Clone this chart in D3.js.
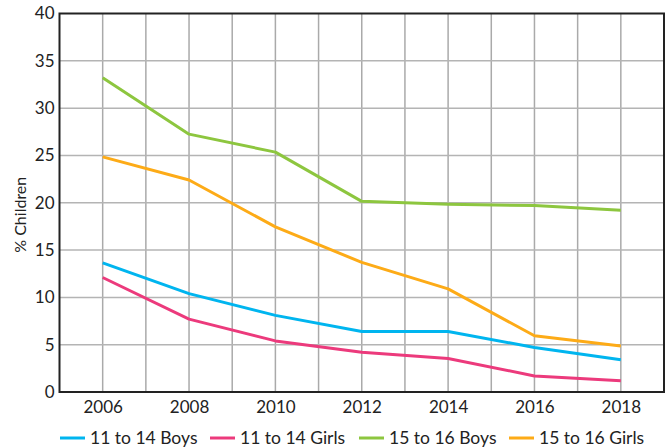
<!DOCTYPE html>
<html>
<head>
<meta charset="utf-8">
<script src="https://cdn.jsdelivr.net/npm/d3@7"></script>
<style>
  body { margin: 0; background: #fff; }
  svg { display: block; font-family: Lato, "Open Sans", sans-serif; }
</style>
</head>
<body>
<div id="viz"></div>
<script>
// % children by age group and sex, 2006-2018

const YEARS = [2006, 2008, 2010, 2012, 2014, 2016, 2018];
const SERIES = ["11 to 14 Boys", "11 to 14 Girls", "15 to 16 Boys", "15 to 16 Girls"];
const COLORS = ["#00b5ef", "#ec3a7c", "#8dc63f", "#fdab17"];

const boys11 = [13.65, 10.4, 8.1, 6.4, 6.4, 4.7, 3.4];
const girls11 = [12.1, 7.7, 5.4, 4.2, 3.55, 1.7, 1.2];
const boys15 = [33.2, 27.25, 25.35, 20.15, 19.85, 19.7, 19.2];
const girls15 = [24.85, 22.4, 17.45, 13.7, 10.9, 5.95, 4.85];

const VALUES = [boys11, girls11, boys15, girls15];
const Y_TICKS = [0, 5, 10, 15, 20, 25, 30, 35, 40];

const width = 670, height = 448;
const margin = { top: 13.5, right: 6, bottom: 56, left: 59.5 };

const svg = d3.select("#viz").append("svg")
  .attr("width", width)
  .attr("height", height);

const x = d3.scaleLinear()
  .domain([2005, 2019])
  .range([margin.left, width - margin.right]);

const y = d3.scaleLinear()
  .domain([0, 40])
  .range([height - margin.bottom, margin.top]);

// grid
const gridYears = d3.range(2006, 2019);
svg.append("g")
  .selectAll("line")
  .data(gridYears)
  .enter().append("line")
  .attr("x1", d => x(d)).attr("x2", d => x(d))
  .attr("y1", y(0)).attr("y2", y(40))
  .attr("stroke", "#aaa")
  .attr("stroke-width", 1.5);

svg.append("g")
  .selectAll("line")
  .data(Y_TICKS.slice(1, -1))
  .enter().append("line")
  .attr("x1", x(2005)).attr("x2", x(2019))
  .attr("y1", d => y(d)).attr("y2", d => y(d))
  .attr("stroke", "#b4b4b4")
  .attr("stroke-width", 1.5);

// lines
const line = d3.line()
  .x((d, i) => x(YEARS[i]))
  .y(d => y(d));

svg.append("g")
  .selectAll("path")
  .data(VALUES)
  .enter().append("path")
  .attr("fill", "none")
  .attr("stroke", (d, i) => COLORS[i])
  .attr("stroke-width", 3)
  .attr("stroke-linejoin", "round")
  .attr("d", line);

// frame
svg.append("rect")
  .attr("x", x(2005)).attr("y", y(40))
  .attr("width", x(2019) - x(2005))
  .attr("height", y(0) - y(40))
  .attr("fill", "none")
  .attr("stroke", "#222")
  .attr("stroke-width", 2);

// axes
const yAxis = d3.axisLeft(y).tickValues(Y_TICKS).tickSize(0).tickPadding(5);
const gy = svg.append("g")
  .attr("transform", `translate(${margin.left},0)`)
  .call(yAxis);
gy.select(".domain").remove();
gy.selectAll("text")
  .attr("font-size", 17)
  .attr("font-family", "Lato, sans-serif")
  .attr("fill", "#222");

const xAxis = d3.axisBottom(x).tickValues(YEARS).tickFormat(d3.format("d")).tickSize(0).tickPadding(9);
const gx = svg.append("g")
  .attr("transform", `translate(0,${y(0)})`)
  .call(xAxis);
gx.select(".domain").remove();
gx.selectAll("text")
  .attr("font-size", 17)
  .attr("font-family", "Lato, sans-serif")
  .attr("fill", "#222");

// y title
svg.append("text")
  .attr("transform", `translate(26,${(y(0) + y(40)) / 2 + 12}) rotate(-90)`)
  .attr("text-anchor", "middle")
  .attr("font-size", 16)
  .attr("fill", "#222")
  .text("% Children");

// legend
const legendX = [60, 210, 359, 509];
const legend = svg.append("g")
  .selectAll("g")
  .data(SERIES)
  .enter().append("g")
  .attr("transform", (d, i) => `translate(${legendX[i]},438)`);

legend.append("line")
  .attr("x1", 0).attr("x2", 25)
  .attr("stroke", (d, i) => COLORS[i])
  .attr("stroke-width", 3);

legend.append("text")
  .attr("x", 30)
  .attr("dy", "0.35em")
  .attr("font-size", 17.5)
  .attr("fill", "#222")
  .text(d => d);
</script>
</body>
</html>
